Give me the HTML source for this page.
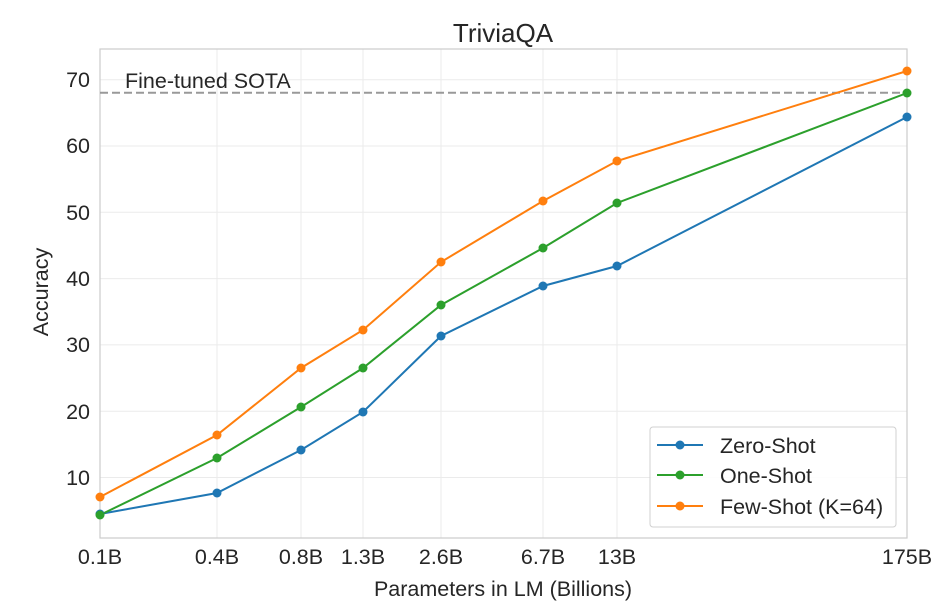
<!DOCTYPE html>
<html><head><style>body{margin:0;background:#fff}svg text{font-family:"Liberation Sans",Arial,sans-serif;fill:#262626}</style></head>
<body>
<svg width="946" height="606" xmlns="http://www.w3.org/2000/svg">
<g stroke="#ebebeb" stroke-width="1">
<line x1="100" x2="907" y1="477.5" y2="477.5"/><line x1="100" x2="907" y1="411.2" y2="411.2"/><line x1="100" x2="907" y1="344.9" y2="344.9"/><line x1="100" x2="907" y1="278.6" y2="278.6"/><line x1="100" x2="907" y1="212.3" y2="212.3"/><line x1="100" x2="907" y1="146" y2="146"/><line x1="100" x2="907" y1="79.7" y2="79.7"/>
<line x1="217" x2="217" y1="49" y2="538"/><line x1="301" x2="301" y1="49" y2="538"/><line x1="363" x2="363" y1="49" y2="538"/><line x1="441" x2="441" y1="49" y2="538"/><line x1="543" x2="543" y1="49" y2="538"/><line x1="617" x2="617" y1="49" y2="538"/>
</g>
<rect x="100" y="49" width="807" height="489" fill="none" stroke="#cccccc" stroke-width="1.2"/>
<line x1="100" x2="907" y1="92.7" y2="92.7" stroke="#999" stroke-width="2" stroke-dasharray="8,4"/>
<text x="125" y="88" font-size="21.5">Fine-tuned SOTA</text>
<g font-size="21.5" text-anchor="end">
<text x="90" y="485">10</text><text x="90" y="419">20</text><text x="90" y="352">30</text><text x="90" y="286">40</text><text x="90" y="220">50</text><text x="90" y="153">60</text><text x="90" y="87">70</text>
</g>
<g font-size="21.5" text-anchor="middle">
<text x="100" y="564">0.1B</text><text x="217" y="564">0.4B</text><text x="301" y="564">0.8B</text><text x="363" y="564">1.3B</text><text x="441" y="564">2.6B</text><text x="543" y="564">6.7B</text><text x="617" y="564">13B</text><text x="907" y="564">175B</text>
<text x="503" y="596">Parameters in LM (Billions)</text>
<text x="503" y="42" font-size="26">TriviaQA</text>
<text transform="translate(48,292) rotate(-90)">Accuracy</text>
</g>
<g fill="none" stroke-width="2">
<polyline stroke="#1f77b4" points="100,514 217,493 301,450 363,412 441,336 543,286 617,266 907,117"/>
<polyline stroke="#2ca02c" points="100,515 217,458 301,407 363,368 441,305 543,248 617,203 907,93"/>
<polyline stroke="#ff7f0e" points="100,497 217,435 301,368 363,330 441,262 543,201 617,161 907,71"/>
</g>
<g fill="#1f77b4"><circle cx="100" cy="514" r="4.5"/><circle cx="217" cy="493" r="4.5"/><circle cx="301" cy="450" r="4.5"/><circle cx="363" cy="412" r="4.5"/><circle cx="441" cy="336" r="4.5"/><circle cx="543" cy="286" r="4.5"/><circle cx="617" cy="266" r="4.5"/><circle cx="907" cy="117" r="4.5"/></g>
<g fill="#2ca02c"><circle cx="100" cy="515" r="4.5"/><circle cx="217" cy="458" r="4.5"/><circle cx="301" cy="407" r="4.5"/><circle cx="363" cy="368" r="4.5"/><circle cx="441" cy="305" r="4.5"/><circle cx="543" cy="248" r="4.5"/><circle cx="617" cy="203" r="4.5"/><circle cx="907" cy="93" r="4.5"/></g>
<g fill="#ff7f0e"><circle cx="100" cy="497" r="4.5"/><circle cx="217" cy="435" r="4.5"/><circle cx="301" cy="368" r="4.5"/><circle cx="363" cy="330" r="4.5"/><circle cx="441" cy="262" r="4.5"/><circle cx="543" cy="201" r="4.5"/><circle cx="617" cy="161" r="4.5"/><circle cx="907" cy="71" r="4.5"/></g>
<rect x="650" y="427" width="246" height="100" rx="3" fill="#fff" fill-opacity="0.9" stroke="#d0d0d0"/>
<line x1="657" x2="703" y1="445" y2="445" stroke="#1f77b4" stroke-width="2"/><circle cx="680" cy="445" r="4.5" fill="#1f77b4"/>
<line x1="657" x2="703" y1="475" y2="475" stroke="#2ca02c" stroke-width="2"/><circle cx="680" cy="475" r="4.5" fill="#2ca02c"/>
<line x1="657" x2="703" y1="506" y2="506" stroke="#ff7f0e" stroke-width="2"/><circle cx="680" cy="506" r="4.5" fill="#ff7f0e"/>
<g font-size="21.5"><text x="720" y="453">Zero-Shot</text><text x="720" y="483">One-Shot</text><text x="720" y="514">Few-Shot (K=64)</text></g>
</svg>
</body></html>
